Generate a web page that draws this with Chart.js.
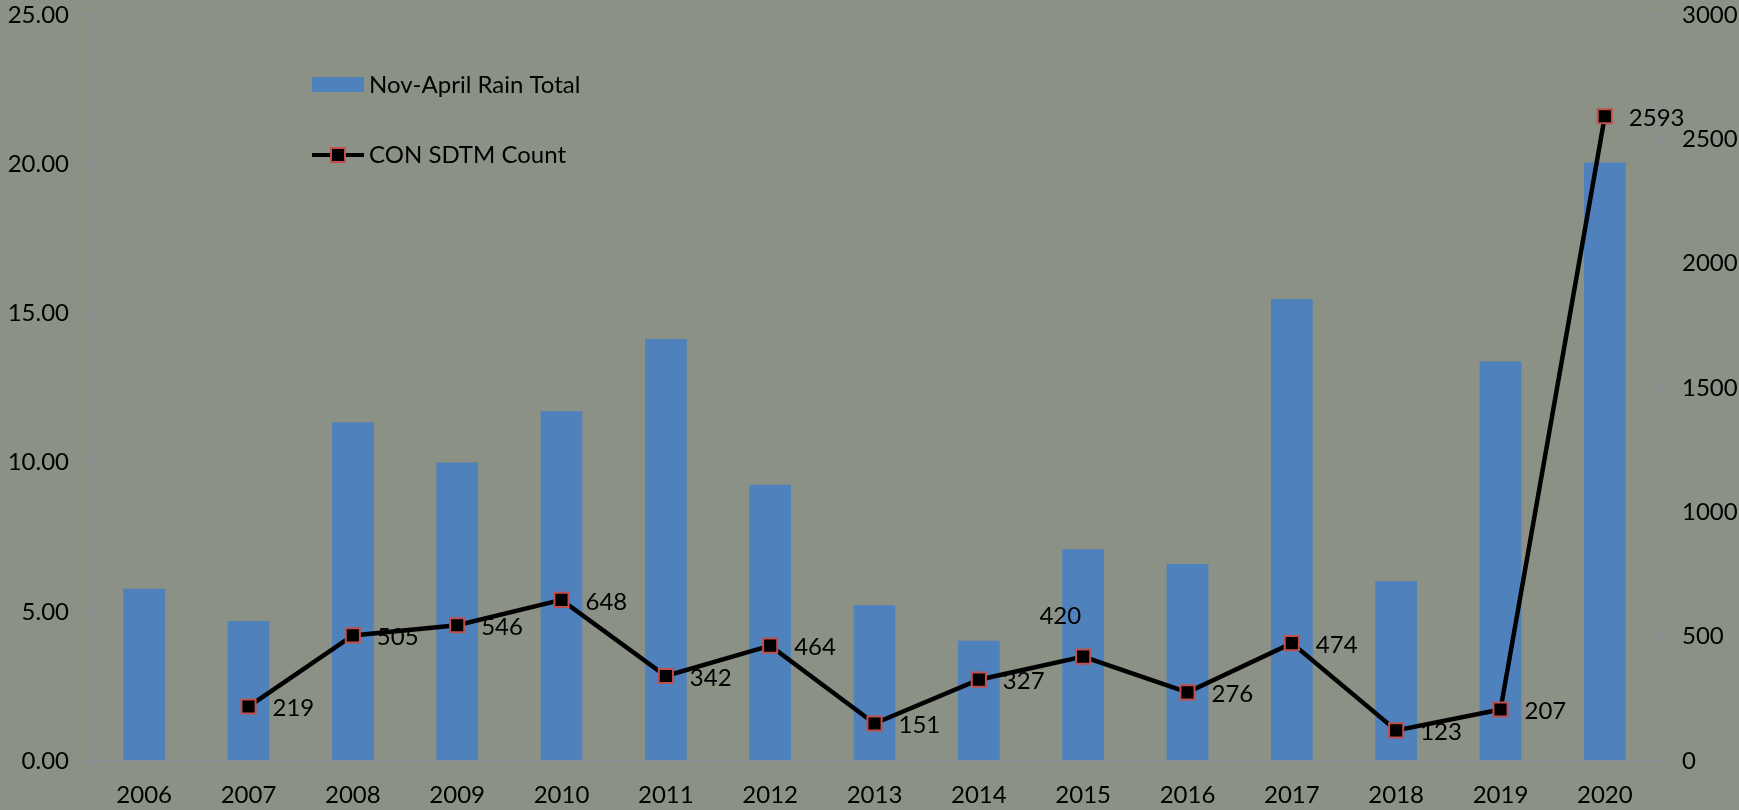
<!DOCTYPE html>
<html>
<head>
<meta charset="utf-8">
<script src="https://cdn.jsdelivr.net/npm/chart.js@4/dist/chart.umd.min.js"></script>
<style>
  html, body { margin: 0; padding: 0; background: #8c9185; }
  #wrap { position: relative; width: 1739px; height: 810px; }
</style>
</head>
<body>
<div id="wrap"><canvas id="c" width="1739" height="810"></canvas></div>
<script>
const years = ['2006','2007','2008','2009','2010','2011','2012','2013','2014','2015','2016','2017','2018','2019','2020'];
const rainTotal = [5.77, 4.69, 11.35, 10.0, 11.72, 14.14, 9.26, 5.22, 4.03, 7.1, 6.6, 15.48, 6.02, 13.39, 20.06];
const sdtmCount = [null, 219, 505, 546, 648, 342, 464, 151, 327, 420, 276, 474, 123, 207, 2593];
const leftTicks = [0, 5, 10, 15, 20, 25];
const rightTicks = [0, 500, 1000, 1500, 2000, 2500, 3000];
const seriesNames = ['Nov-April Rain Total', 'CON SDTM Count'];

const FONT = 'Lato, "Open Sans", sans-serif';
const FS = 24;
const AXIS_COLOR = '#8e8e96';
const BAR_COLOR = '#4f81bd';
const MARK_BORDER = '#c0504d';

const legendPlugin = {
  id: 'customLegend',
  afterDraw(chart) {
    const ctx = chart.ctx;
    ctx.save();
    ctx.fillStyle = BAR_COLOR;
    ctx.fillRect(312, 77, 52, 15);
    ctx.fillStyle = '#000';
    ctx.font = FS + 'px ' + FONT;
    ctx.textBaseline = 'middle';
    ctx.textAlign = 'left';
    ctx.fillText(seriesNames[0], 369, 85);
    ctx.strokeStyle = '#000';
    ctx.lineWidth = 4;
    ctx.beginPath();
    ctx.moveTo(312, 155); ctx.lineTo(364, 155);
    ctx.stroke();
    ctx.fillStyle = '#000';
    ctx.fillRect(331, 148, 14, 14);
    ctx.strokeStyle = MARK_BORDER;
    ctx.lineWidth = 2;
    ctx.strokeRect(331, 148, 14, 14);
    ctx.fillStyle = '#000';
    ctx.fillText(seriesNames[1], 369, 155);
    ctx.restore();
  }
};

const labelPlugin = {
  id: 'pointLabels',
  afterDatasetsDraw(chart) {
    const ctx = chart.ctx;
    const meta = chart.getDatasetMeta(1);
    ctx.save();
    ctx.fillStyle = '#000';
    ctx.font = FS + 'px ' + FONT;
    ctx.textBaseline = 'middle';
    meta.data.forEach((pt, i) => {
      const v = sdtmCount[i];
      if (v === null || v === undefined) return;
      if (years[i] === '2015') {
        ctx.textAlign = 'right';
        ctx.fillText(String(v), pt.x - 2, pt.y - 40);
      } else {
        ctx.textAlign = 'left';
        ctx.fillText(String(v), pt.x + 24, pt.y + 2);
      }
    });
    ctx.restore();
  }
};

new Chart(document.getElementById('c'), {
  data: {
    labels: years,
    datasets: [
      {
        type: 'bar',
        label: seriesNames[0],
        data: rainTotal,
        backgroundColor: BAR_COLOR,
        yAxisID: 'y',
        order: 2,
        categoryPercentage: 1.0,
        barPercentage: 0.4
      },
      {
        type: 'line',
        label: seriesNames[1],
        data: sdtmCount,
        yAxisID: 'y1',
        order: 1,
        borderColor: '#000',
        borderWidth: 4.5,
        tension: 0,
        pointStyle: 'rect',
        pointRadius: 10,
        pointHoverRadius: 10,
        pointBackgroundColor: '#000',
        pointBorderColor: MARK_BORDER,
        pointBorderWidth: 2
      }
    ]
  },
  options: {
    responsive: false,
    animation: false,
    devicePixelRatio: 1,
    layout: { padding: { top: 0, left: 0, right: 0, bottom: 0 } },
    plugins: { legend: { display: false }, tooltip: { enabled: false } },
    scales: {
      x: {
        offset: true,
        grid: { offset: true, drawOnChartArea: false, color: AXIS_COLOR, tickColor: AXIS_COLOR, tickLength: 6, lineWidth: 2 },
        border: { display: true, color: AXIS_COLOR, width: 2 },
        ticks: { color: '#000', font: { family: FONT, size: FS }, padding: 14, maxRotation: 0, autoSkip: false },
        afterFit(s) { s.height = 49; s.paddingLeft = 0; s.paddingRight = 0; }
      },
      y: {
        position: 'left',
        min: 0, max: 25,
        afterBuildTicks(s) { s.ticks = leftTicks.map(v => ({ value: v })); },
        grid: { drawOnChartArea: false, tickColor: AXIS_COLOR, tickLength: 6, lineWidth: 2 },
        border: { display: true, color: AXIS_COLOR, width: 2 },
        ticks: { color: '#000', font: { family: FONT, size: FS }, padding: 17, callback: v => Number(v).toFixed(2) },
        afterFit(s) { s.width = 92; s.paddingTop = 15; s.paddingBottom = 0; }
      },
      y1: {
        position: 'right',
        min: 0, max: 3000,
        afterBuildTicks(s) { s.ticks = rightTicks.map(v => ({ value: v })); },
        grid: { drawOnChartArea: false, tickColor: AXIS_COLOR, tickLength: 6, lineWidth: 2 },
        border: { display: true, color: AXIS_COLOR, width: 2 },
        ticks: { color: '#000', font: { family: FONT, size: FS }, padding: 19, callback: v => String(v) },
        afterFit(s) { s.width = 82; s.paddingTop = 15; s.paddingBottom = 0; }
      }
    }
  },
  plugins: [legendPlugin, labelPlugin]
});
</script>
</body>
</html>
